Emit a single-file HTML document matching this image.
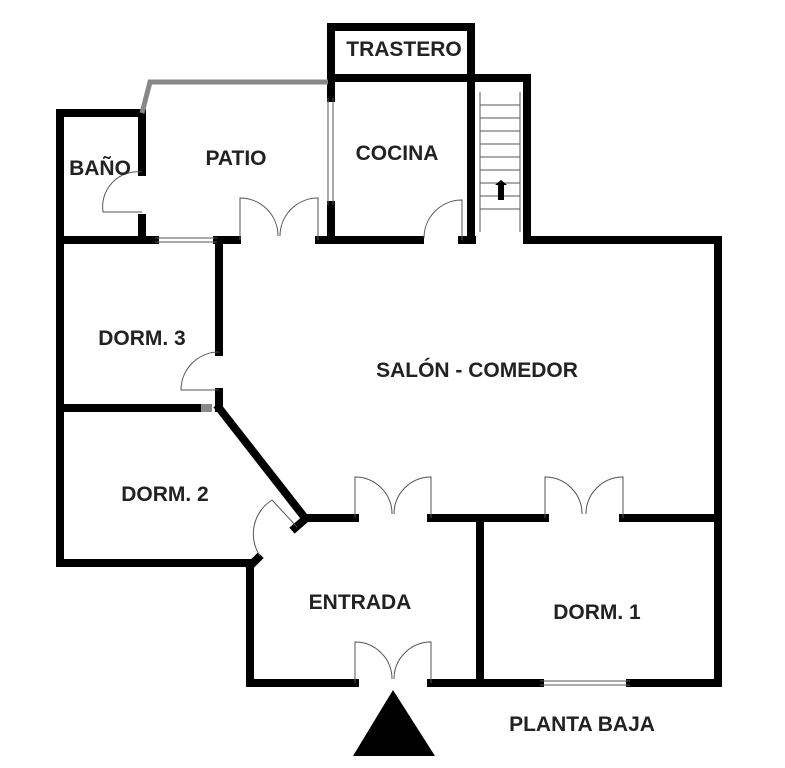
<!DOCTYPE html>
<html><head><meta charset="utf-8"><style>body{margin:0;background:#fff}svg{display:block}text{font-family:"Liberation Sans",sans-serif;font-weight:bold;font-size:21px;fill:#222;text-anchor:middle}</style></head><body>
<svg width="785" height="768" viewBox="0 0 785 768">
<g stroke="#000" stroke-width="8" fill="none" stroke-linecap="square">
<rect x="331" y="27" width="140" height="51"/>
<line x1="331" y1="78" x2="527" y2="78"/>
<line x1="527" y1="78" x2="527" y2="237"/>
<line x1="471" y1="78" x2="471" y2="237"/>
<line x1="331" y1="78" x2="331" y2="98"/>
<line x1="331" y1="205" x2="331" y2="237"/>
<line x1="60" y1="113" x2="142" y2="113"/>
<line x1="60" y1="113" x2="60" y2="563"/>
<line x1="142" y1="113" x2="142" y2="172"/>
<line x1="142" y1="218" x2="142" y2="237"/>
<line x1="60" y1="240" x2="155" y2="240"/>
<line x1="217" y1="240" x2="237" y2="240"/>
<line x1="319" y1="240" x2="420" y2="240"/>
<line x1="462" y1="240" x2="472" y2="240"/>
<line x1="527" y1="240" x2="718" y2="240"/>
<line x1="718" y1="240" x2="718" y2="683"/>
<line x1="219" y1="240" x2="219" y2="352"/>
<line x1="219" y1="392" x2="219" y2="408"/>
<line x1="62" y1="408" x2="200" y2="408"/>
<line x1="219" y1="408" x2="305" y2="518"/>
<line x1="305" y1="518" x2="355" y2="518"/>
<line x1="431" y1="518" x2="545" y2="518"/>
<line x1="623" y1="518" x2="718" y2="518"/>
<line x1="303" y1="521" x2="295" y2="528"/>
<line x1="258" y1="558" x2="250" y2="566"/>
<line x1="60" y1="563" x2="250" y2="563"/>
<line x1="250" y1="563" x2="250" y2="683"/>
<line x1="250" y1="683" x2="355" y2="683"/>
<line x1="431" y1="683" x2="540" y2="683"/>
<line x1="630" y1="683" x2="718" y2="683"/>
<line x1="480" y1="521" x2="480" y2="683"/>
</g>
<rect x="201" y="404" width="11" height="8" fill="#888"/>
<polyline points="142,113 150,82 328,82" stroke="#888" stroke-width="5" fill="none"/>
<g stroke="#555" stroke-width="1" fill="none">
<path d="M480 92 V232 M520 92 V232"/>
<path d="M480 105H520M480 118H520M480 131H520M480 144H520M480 157H520M480 170H520M480 183H520M480 196H520M480 209H520"/>
<line x1="328" y1="98" x2="328" y2="205"/><line x1="333" y1="98" x2="333" y2="205"/>
<line x1="155" y1="238" x2="217" y2="238"/><line x1="155" y1="242" x2="217" y2="242"/>
<line x1="540" y1="681" x2="630" y2="681"/><line x1="540" y1="685" x2="630" y2="685"/>
<path d="M142 172 A35 35 0 0 0 103 212 H142"/>
<path d="M240 240 V198 A38 38 0 0 1 278 236 M318 240 V198 A38 38 0 0 0 280 236"/>
<path d="M462 240 V200 A38 38 0 0 0 424 238"/>
<path d="M219 352 A38 38 0 0 0 181 390 H219"/>
<path d="M355 518 V477 A37 37 0 0 1 392 514 M431 518 V477 A37 37 0 0 0 394 514"/>
<path d="M545 518 V477 A37 37 0 0 1 582 514 M623 518 V477 A37 37 0 0 0 586 514"/>
<path d="M355 683 V642 A37 37 0 0 1 392 679 M431 683 V642 A37 37 0 0 0 394 679"/>
<path d="M297 527 L272 500 A40 40 0 0 0 260 556"/>
</g>
<polygon points="495,185 501,180 507,185 504,185 504,200 498,200 498,185" fill="#000"/>
<polygon points="393,690 353,756 435,756" fill="#000"/>
<text x="404" y="56">TRASTERO</text>
<text x="100" y="175">BAÑO</text>
<text x="236" y="165">PATIO</text>
<text x="397" y="160">COCINA</text>
<text x="142" y="345">DORM. 3</text>
<text x="477" y="377">SALÓN - COMEDOR</text>
<text x="165" y="501">DORM. 2</text>
<text x="360" y="609">ENTRADA</text>
<text x="597" y="619">DORM. 1</text>
<text x="582" y="731">PLANTA BAJA</text>
</svg>
</body></html>
